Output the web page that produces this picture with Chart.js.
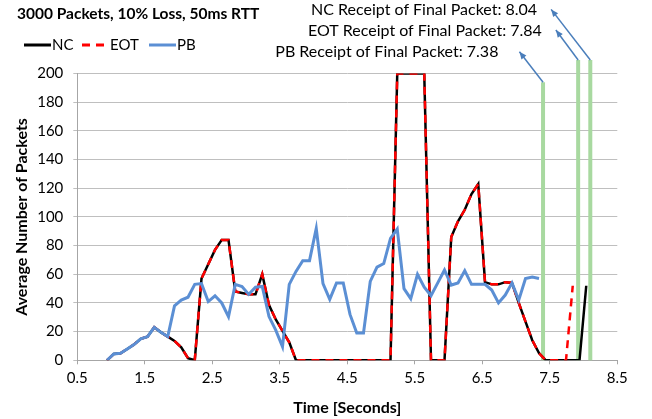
<!DOCTYPE html>
<html>
<head>
<meta charset="utf-8">
<script src="https://cdn.jsdelivr.net/npm/chart.js@4"></script>
<style>
  html, body { margin: 0; padding: 0; background: #fff; }
</style>
</head>
<body>
<canvas id="chart" width="652" height="419"></canvas>
<script>
// sample times (seconds), shared by all three series
const times = [
  0.94, 1.04, 1.14, 1.24, 1.34, 1.44, 1.54, 1.64, 1.74, 1.84,
  1.94, 2.04, 2.14, 2.24, 2.34, 2.44, 2.54, 2.64, 2.74, 2.84,
  2.94, 3.04, 3.14, 3.24, 3.34, 3.44, 3.54, 3.64, 3.74, 3.84,
  3.94, 4.04, 4.14, 4.24, 4.34, 4.44, 4.54, 4.64, 4.74, 4.84,
  4.94, 5.04, 5.14, 5.24, 5.34, 5.44, 5.54, 5.64, 5.74, 5.84,
  5.94, 6.04, 6.14, 6.24, 6.34, 6.44, 6.54, 6.64, 6.74, 6.84,
  6.94, 7.04, 7.14, 7.24, 7.34, 7.44, 7.54, 7.64, 7.74, 7.84,
  7.94, 8.04
];

const ncValues = [
  0, 4.4, 4.9, 7.9, 11, 15, 16.5, 23, 19.5, 16.5,
  13.5, 9, 1.5, 0, 57, 67, 77, 84, 84, 48,
  47, 46, 46, 60, 38.5, 28.5, 20.5, 12.5, 0, 0,
  0, 0, 0, 0, 0, 0, 0, 0, 0, 0,
  0, 0, 0, 200, 200, 200, 200, 200, 0, 0,
  0, 86, 97, 105, 116, 123, 54.5, 53, 53, 54.5,
  54, 40, 27, 14, 5, 0, 0, 0, 0, 0,
  0, 52
];

const eotValues = [
  0, 4.4, 4.9, 7.9, 11, 15, 16.5, 23, 19.5, 16.5,
  13.5, 9, 1.5, 0, 57, 67, 77, 84, 84, 48,
  47, 46, 46, 60, 38.5, 28.5, 20.5, 12.5, 0, 0,
  0, 0, 0, 0, 0, 0, 0, 0, 0, 0,
  0, 0, 0, 200, 200, 200, 200, 200, 0, 0,
  0, 86, 97, 105, 116, 123, 54.5, 53, 53, 54.5,
  54, 40, 27, 14, 5, 0, 0, 0, 0, 52
];

const pbValues = [
  0, 4.4, 4.9, 7.9, 11, 15, 16.5, 23, 19.5, 16.5,
  38, 42, 44, 53, 53.5, 41, 45, 40, 30.5, 53,
  51.5, 46, 51, 51.5, 30.5, 21, 9.5, 53, 62, 69.5,
  69.5, 92, 53.5, 42.5, 54, 54, 32, 19, 19, 55,
  65, 67.5, 85, 91.5, 50, 43, 60, 51, 45, 54,
  63, 52.5, 54, 62.5, 53, 53, 53, 49, 40, 45.5,
  54, 42, 57, 58, 57
];

const xTicks = [0.5, 1.5, 2.5, 3.5, 4.5, 5.5, 6.5, 7.5, 8.5];

// "receipt of final packet" call-outs: NC, EOT, PB
const finalLabels = [
  'NC Receipt of Final Packet: 8.04',
  'EOT Receipt of Final Packet: 7.84',
  'PB Receipt of Final Packet: 7.38'
];
const markerX = [8.10, 7.92, 7.40];
const markerTop = [209.5, 209.5, 194];
const arrowX = [7.52, 7.59, 7.05];
const arrowY = [244.8, 230.4, 215.3];
const labelGap = [14, 14, 21];

const FONT = 'Lato, "Open Sans", sans-serif';

function pts(vals) {
  return vals.map((v, i) => ({ x: times[i], y: v }));
}

const callouts = {
  id: 'callouts',
  beforeDatasetsDraw(chart) {
    const { ctx, scales: { x, y } } = chart;
    ctx.save();
    ctx.strokeStyle = '#A8D9A0';
    ctx.lineWidth = 4;
    markerX.forEach((mx, i) => {
      const px = x.getPixelForValue(mx);
      ctx.beginPath();
      ctx.moveTo(px, y.getPixelForValue(0));
      ctx.lineTo(px, y.getPixelForValue(markerTop[i]));
      ctx.stroke();
    });
    ctx.restore();
  },
  afterDraw(chart) {
    const { ctx, scales: { x, y } } = chart;
    ctx.save();
    // arrows + labels
    ctx.strokeStyle = '#4A7EBB';
    ctx.lineWidth = 1.5;
    markerX.forEach((mx, i) => {
      const x0 = x.getPixelForValue(mx), y0 = y.getPixelForValue(markerTop[i]);
      const x1 = x.getPixelForValue(arrowX[i]), y1 = y.getPixelForValue(arrowY[i]);
      ctx.fillStyle = '#4A7EBB';
      ctx.beginPath();
      ctx.moveTo(x0, y0);
      ctx.lineTo(x1, y1);
      ctx.stroke();
      const a = Math.atan2(y1 - y0, x1 - x0);
      ctx.beginPath();
      ctx.moveTo(x1, y1);
      ctx.lineTo(x1 - 8 * Math.cos(a - 0.4), y1 - 8 * Math.sin(a - 0.4));
      ctx.lineTo(x1 - 8 * Math.cos(a + 0.4), y1 - 8 * Math.sin(a + 0.4));
      ctx.closePath();
      ctx.fill();
      ctx.fillStyle = '#000';
      ctx.font = '16px ' + FONT;
      ctx.textAlign = 'right';
      ctx.textBaseline = 'middle';
      ctx.fillText(finalLabels[i], x1 - labelGap[i], y1 + 0.5);
    });

    // title
    ctx.fillStyle = '#000';
    ctx.font = 'bold 15.5px ' + FONT;
    ctx.textAlign = 'left';
    ctx.textBaseline = 'middle';
    ctx.fillText('3000 Packets, 10% Loss, 50ms RTT', 17, 14);

    // legend
    const ly = 45;
    chart.data.datasets.slice().reverse().forEach((ds, i) => {
      const lx = [24, 82, 149][i];
      ctx.strokeStyle = ds.borderColor;
      ctx.lineWidth = 3;
      ctx.setLineDash(ds.borderDash || []);
      ctx.beginPath();
      ctx.moveTo(lx, ly);
      ctx.lineTo(lx + 27, ly);
      ctx.stroke();
      ctx.setLineDash([]);
      ctx.fillStyle = '#000';
      ctx.font = '15px ' + FONT;
      ctx.fillText(ds.label, lx + 28, ly + 0.5);
    });
    ctx.restore();
  }
};

new Chart(document.getElementById('chart'), {
  type: 'line',
  data: {
    datasets: [
      { label: 'PB', data: pts(pbValues), borderColor: '#5B8FD4', borderWidth: 3 },
      { label: 'EOT', data: pts(eotValues), borderColor: '#FF0000', borderWidth: 2.5, borderDash: [8, 6] },
      { label: 'NC', data: pts(ncValues), borderColor: '#000000', borderWidth: 2.5 }
    ]
  },
  options: {
    responsive: false,
    animation: false,
    layout: { padding: { top: 73.6, right: 34.7, left: 0, bottom: 0 } },
    plugins: {
      legend: { display: false },
      title: { display: false },
      tooltip: { enabled: false }
    },
    elements: { point: { radius: 0 }, line: { tension: 0, fill: false } },
    scales: {
      x: {
        type: 'linear',
        min: 0.5,
        max: 8.5,
        afterBuildTicks: s => { s.ticks = xTicks.map(v => ({ value: v })); },
        afterFit: s => { s.height = 58.7; },
        grid: { drawOnChartArea: false, color: '#A6A6A6', tickLength: 4 },
        border: { color: '#A6A6A6' },
        ticks: {
          padding: 5,
          color: '#000',
          font: { family: FONT, size: 15 },
          maxRotation: 0,
          callback: v => v.toFixed(1)
        },
        title: {
          display: true,
          text: 'Time [Seconds]',
          color: '#000',
          font: { family: FONT, size: 16, weight: 'bold' },
          padding: { top: 0, bottom: 1.5 }
        }
      },
      y: {
        min: 0,
        max: 200,
        afterFit: s => { s.width = 77.3; },
        grid: { color: '#BFBFBF', tickLength: 4 },
        border: { color: '#A6A6A6' },
        ticks: {
          stepSize: 20,
          padding: 10,
          color: '#000',
          font: { family: FONT, size: 15 }
        },
        title: {
          display: true,
          text: 'Average Number of Packets',
          color: '#000',
          font: { family: FONT, size: 16, weight: 'bold' },
          padding: { top: 12.5, bottom: 0 }
        }
      }
    }
  },
  plugins: [callouts]
});
</script>
</body>
</html>
